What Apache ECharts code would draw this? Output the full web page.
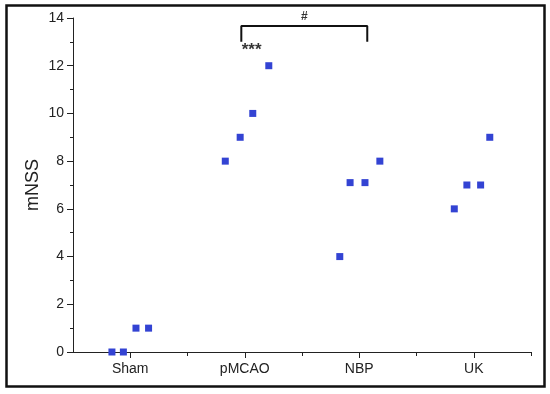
<!DOCTYPE html>
<html><head><meta charset="utf-8">
<script src="https://cdn.jsdelivr.net/npm/echarts@6/dist/echarts.min.js"></script>
<style>html,body{margin:0;padding:0;background:#fff}#c{width:550px;height:394px}</style>
</head><body><div id="c"></div>
<script>
const categories = ['Sham', 'pMCAO', 'NBP', 'UK'];
const shamX = [0.84, 0.94, 1.05, 1.16];
const shamY = [0, 0, 1, 1];
const pmcaoX = [1.83, 1.96, 2.07, 2.21];
const pmcaoY = [8, 9, 10, 12];
const nbpX = [2.83, 2.92, 3.05, 3.18];
const nbpY = [4, 7.1, 7.1, 8];
const ukX = [3.83, 3.94, 4.06, 4.14];
const ukY = [6, 7, 7, 9];
const yTicks = [0, 2, 4, 6, 8, 10, 12, 14];
const bracketX = [1.97, 1.97, 3.07, 3.07];
const bracketY = [13.0, 13.66, 13.66, 13.0];
const hashLabel = { x: 2.52, y: 14.05, text: '#' };
const starLabel = { x: 2.06, y: 12.63, text: '***' };

const pts = [];
[[shamX, shamY], [pmcaoX, pmcaoY], [nbpX, nbpY], [ukX, ukY]].forEach(([xs, ys]) => {
  xs.forEach((x, i) => pts.push([x, ys[i]]));
});

const font = 'Liberation Sans, Arial, sans-serif';
const chart = echarts.init(document.getElementById('c'));
chart.setOption({
  backgroundColor: '#fff',
  animation: false,
  graphic: [{
    type: 'rect', shape: { x: 6.5, y: 5.5, width: 538, height: 381 },
    style: { fill: 'none', stroke: '#111', lineWidth: 2.5 }, z: 100
  }],
  grid: { left: 73, right: 19, top: 18, bottom: 42 },
  xAxis: [{
    type: 'value', min: 0.5, max: 4.5, interval: 0.5,
    axisLine: { show: true, onZero: false, lineStyle: { color: '#222', width: 1 } },
    axisTick: { show: true, customValues: [1, 2, 3, 4], length: 6, lineStyle: { color: '#222' } },
    axisLabel: {
      customValues: [1, 2, 3, 4], margin: 10,
      formatter: v => categories[Math.round(v) - 1] || '',
      color: '#222', fontSize: 14, fontFamily: font
    },
    splitLine: { show: false }
  }, {
    type: 'value', min: 0.5, max: 4.5, interval: 0.5, position: 'bottom',
    axisLine: { show: false },
    axisTick: { show: true, customValues: [1.5, 2.5, 3.5, 4.5], length: 4, lineStyle: { color: '#222' } },
    axisLabel: { show: false },
    splitLine: { show: false }
  }],
  yAxis: {
    type: 'value', min: 0, max: 14, interval: 2,
    name: 'mNSS', nameLocation: 'middle', nameGap: 31, nameMoveOverlap: false,
    nameTextStyle: { fontSize: 18, color: '#222', fontFamily: font },
    axisLine: { show: true, lineStyle: { color: '#222', width: 1 } },
    axisTick: { show: true, length: 6, lineStyle: { color: '#222' } },
    minorTick: { show: true, splitNumber: 2, length: 3, lineStyle: { color: '#222' } },
    axisLabel: { color: '#222', fontSize: 14, fontFamily: font, margin: 9,
      formatter: v => yTicks.includes(v) ? String(v) : '' },
    splitLine: { show: false }
  },
  series: [{
    type: 'scatter', data: pts, symbol: 'rect', symbolSize: 7,
    itemStyle: { color: '#3343d3', opacity: 1 }
  }, {
    type: 'line', data: bracketX.map((x, i) => [x, bracketY[i]]),
    symbol: 'none', lineStyle: { color: '#111', width: 2 }, silent: true, clip: false
  }, {
    type: 'scatter', symbolSize: 1, silent: true, clip: false,
    itemStyle: { color: 'rgba(0,0,0,0)' },
    data: [[hashLabel.x, hashLabel.y, hashLabel.text]],
    label: { show: true, position: 'inside', formatter: p => p.data[2], color: '#000', textBorderWidth: 0, fontSize: 12, fontWeight: 'bold', fontFamily: font }
  }, {
    type: 'scatter', symbolSize: 1, silent: true, clip: false,
    itemStyle: { color: 'rgba(0,0,0,0)' },
    data: [[starLabel.x, starLabel.y, starLabel.text]],
    label: { show: true, position: 'inside', formatter: p => p.data[2], color: '#000', textBorderWidth: 0, fontSize: 17, fontFamily: font, fontWeight: 'bold', lineHeight: 17 }
  }]
});
</script></body></html>
